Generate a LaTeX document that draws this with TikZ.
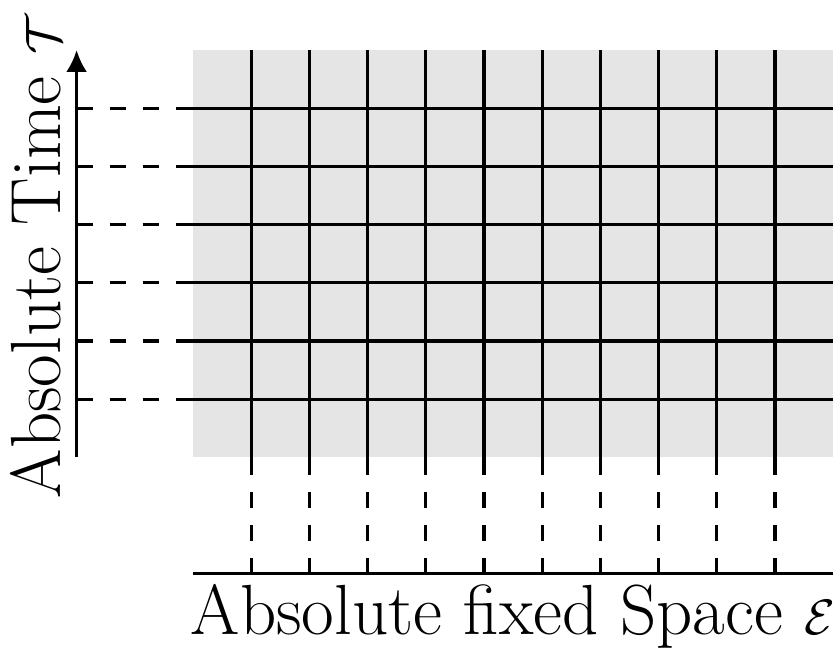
\documentclass[tikz,border=0pt]{standalone}
\usetikzlibrary{arrows.meta}
\begin{document}
\begin{tikzpicture}[x=29.1pt,y=29.1pt,
  gridline/.style={line width=1.6pt},
  guideline/.style={line width=1.6pt, dash pattern=on 8pt off 8.5pt},
  axisline/.style={line width=1.6pt},
  biglabel/.style={font=\fontsize{35.5}{42}\selectfont, inner sep=0pt}]
\useasboundingbox (-3.316,-3.292) rectangle (11.048,7.859);
\fill[gray!20] (0,0) rectangle (11,7);
% horizontal lines
\foreach \j in {1,...,6} {
  \coordinate (hl\j) at (-2,\j);
  \coordinate (hm\j) at (-0.27,\j);
  \coordinate (hr\j) at (11,\j);
  \draw[guideline] (hl\j) -- (hm\j);
  \draw[gridline] (hm\j) -- (hr\j);
}
% vertical lines
\foreach \i in {1,...,10} {
  \coordinate (vb\i) at (\i,-2);
  \coordinate (vm\i) at (\i,-0.285);
  \coordinate (vt\i) at (\i,7);
  \draw[guideline] (vb\i) -- (vm\i);
  \draw[gridline] (vm\i) -- (vt\i);
}
% axes
\coordinate (ta0) at (-2,0);
\coordinate (ta1) at (-2,7);
\draw[axisline,-{Latex[length=11pt,width=10.5pt]}] (ta0) -- (ta1);
\coordinate (sa0) at (0,-2);
\coordinate (sa1) at (11,-2);
\draw[axisline] (sa0) -- (sa1);
% labels
\node[biglabel, anchor=base] (slabel) at (5.5,-3.05) {Absolute fixed Space $\mathcal{E}$};
\node[biglabel, anchor=base, rotate=90] (tlabel) at (-2.285,3.45) {Absolute Time $\mathcal{T}$};
\end{tikzpicture}
\end{document}
